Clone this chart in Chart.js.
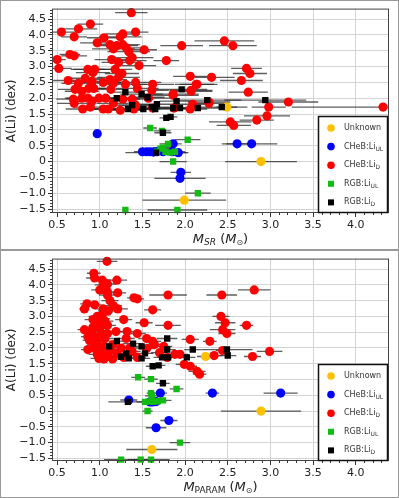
<!DOCTYPE html>
<html>
<head>
<meta charset="utf-8">
<script src="https://cdn.jsdelivr.net/npm/chart.js@4.4.1/dist/chart.umd.min.js"></script>
<style>
  body { margin: 0; background: #fff; }
  canvas { display: block; }
</style>
</head>
<body>
<canvas id="srChart" width="399" height="250"></canvas>
<canvas id="paramChart" width="399" height="248"></canvas>
<script>
// tick labels
const xTickValues = [0.5, 1.0, 1.5, 2.0, 2.5, 3.0, 3.5, 4.0];
const yTickValues = [-1.5, -1.0, -0.5, 0, 0.5, 1.0, 1.5, 2.0, 2.5, 3.0, 3.5, 4.0, 4.5];
const legendLabels = [['Unknown', ''], ['CHeB:Li', 'UL'], ['CHeB:Li', 'D'], ['RGB:Li', 'UL'], ['RGB:Li', 'D']];

// top panel: [mass, A(Li), mass error]
const srUnknown = [[2.49, 1.72, 0.12], [2.89, 0.0, 0.42], [1.99, -1.22, 0.49]];
const srChebUL = [
  [0.97, 0.88, 0.03], [1.50, 0.31, 0.1], [1.55, 0.31, 0.1], [1.59, 0.31, 0.12], [1.63, 0.30, 0.1],
  [1.67, 0.31, 0.1], [1.74, 0.31, 0.12], [1.85, 0.31, 0.1], [1.92, 0.28, 0.12], [1.86, 0.56, 0.1],
  [1.95, -0.34, 0.12], [1.94, -0.53, 0.3], [2.61, 0.56, 0.18], [2.78, 0.56, 0.3]
];
const srChebD = [
  [1.37, 4.70, 0.19], [0.55, 4.09, 0.2], [0.75, 4.19, 0.22], [0.70, 3.94, 0.15], [0.89, 4.34, 0.15],
  [1.05, 3.91, 0.2], [0.97, 3.75, 0.2], [1.24, 3.94, 0.25], [1.27, 4.03, 0.2], [1.42, 4.09, 0.15],
  [1.20, 3.66, 0.25], [1.27, 3.69, 0.2], [1.31, 3.59, 0.2], [1.34, 3.47, 0.25], [1.52, 3.53, 0.15],
  [1.12, 3.69, 0.2], [1.16, 3.56, 0.25], [0.65, 3.38, 0.12], [0.70, 3.34, 0.15], [0.50, 3.22, 0.1],
  [0.52, 2.94, 0.15], [1.14, 3.22, 0.2], [1.22, 3.13, 0.2], [1.38, 3.28, 0.25], [1.35, 3.19, 0.2],
  [1.46, 3.03, 0.2], [1.78, 3.19, 0.15], [1.96, 3.66, 0.25], [2.06, 2.69, 0.2], [2.13, 2.44, 0.25],
  [2.07, 2.25, 0.25], [0.63, 2.56, 0.3], [0.86, 2.91, 0.2], [0.94, 2.91, 0.25], [0.92, 2.81, 0.2],
  [1.18, 2.91, 0.2], [1.26, 2.78, 0.2], [1.22, 2.66, 0.25], [0.83, 2.63, 0.2], [0.91, 2.53, 0.25],
  [0.75, 2.47, 0.2], [0.71, 2.28, 0.2], [0.79, 2.22, 0.2], [0.87, 2.31, 0.2], [0.93, 2.31, 0.25],
  [1.04, 2.50, 0.3], [1.12, 2.59, 0.2], [1.16, 2.47, 0.2], [1.30, 2.44, 0.25], [1.42, 2.50, 0.3],
  [1.44, 2.31, 0.25], [1.62, 2.44, 0.25], [1.61, 2.25, 0.2], [1.86, 2.09, 0.3], [1.13, 2.28, 0.2],
  [0.69, 1.97, 0.2], [0.70, 1.84, 0.2], [0.79, 2.0, 0.2], [0.86, 2.0, 0.25], [0.91, 1.91, 0.2],
  [0.89, 1.72, 0.2], [0.80, 1.66, 0.2], [0.99, 2.0, 0.25], [1.07, 2.0, 0.2], [1.04, 1.66, 0.2],
  [1.10, 1.66, 0.2], [1.24, 1.62, 0.25], [1.16, 1.84, 0.2], [1.27, 1.97, 0.2], [1.38, 1.97, 0.25],
  [1.42, 1.78, 0.2], [1.40, 1.66, 0.2], [1.57, 2.0, 0.25], [1.62, 1.69, 0.2], [1.87, 1.69, 0.2],
  [2.06, 1.66, 0.2], [2.14, 2.44, 0.2], [2.07, 2.22, 0.25], [1.86, 2.13, 0.3], [2.46, 3.81, 0.35],
  [2.56, 3.66, 0.28], [2.72, 2.94, 0.18], [2.76, 2.78, 0.2], [2.31, 2.66, 0.27], [2.66, 2.56, 0.25],
  [2.74, 2.19, 0.23], [2.28, 1.88, 0.25], [3.21, 1.88, 0.35], [2.98, 1.72, 0.2], [4.32, 1.72, 1.07],
  [2.96, 1.44, 0.27], [2.84, 1.31, 0.2], [2.53, 1.25, 0.25], [2.57, 1.14, 0.2], [2.28, 1.84, 0.2],
  [2.09, 1.81, 0.2]
];
const srRgbUL = [
  [1.59, 1.06, 0.08], [1.73, 0.97, 0.1], [1.80, 0.56, 0.1], [1.74, 0.44, 0.12], [2.03, 0.69, 0.15],
  [1.71, 0.41, 0.1], [1.67, 0.31, 0.1], [1.77, 0.31, 0.12], [1.82, 0.28, 0.1], [1.88, 0.31, 0.12],
  [1.86, 0.0, 0.16], [2.15, -1.0, 0.15], [1.30, -1.53, 0.0], [1.91, -1.53, 0.35]
];
const srRgbD = [
  [1.20, 2.0, 0.2], [1.30, 2.19, 0.2], [1.33, 1.66, 0.2], [1.38, 1.78, 0.2], [1.49, 2.13, 0.25],
  [1.56, 2.03, 0.2], [1.51, 1.66, 0.2], [1.61, 1.72, 0.2], [1.65, 1.66, 0.2], [1.67, 1.81, 0.25],
  [1.78, 1.38, 0.08], [1.83, 1.41, 0.08], [1.90, 1.91, 0.2], [1.86, 1.69, 0.2], [1.96, 2.28, 0.3],
  [1.94, 1.69, 0.2], [2.15, 1.69, 0.25], [2.26, 1.94, 0.4], [2.43, 1.72, 0.3], [2.94, 1.94, 0.48],
  [1.74, 0.91, 0.1], [1.66, 0.28, 0.36]
];

// bottom panel
const parUnknown = [[2.24, 1.73, 0.1], [2.89, 0.0, 0.47], [1.61, -1.22, 0.3]];
const parChebUL = [
  [1.34, 0.35, 0.1], [1.71, 0.57, 0.08], [1.59, 0.29, 0.1], [1.62, 0.29, 0.08], [1.66, 0.30, 0.1],
  [1.81, -0.30, 0.1], [1.66, -0.53, 0.12], [2.32, 0.57, 0.08], [3.12, 0.57, 0.2]
];
const parChebD = [
  [1.085, 4.75, 0.12], [0.93, 4.37, 0.08], [0.94, 4.22, 0.1], [1.03, 4.15, 0.1], [1.20, 4.15, 0.12],
  [1.04, 4.0, 0.1], [1.09, 4.03, 0.1], [1.0, 3.84, 0.1], [1.09, 3.78, 0.1], [1.09, 3.68, 0.1],
  [1.21, 3.75, 0.1], [1.40, 3.59, 0.08], [1.44, 3.56, 0.08], [1.80, 3.68, 0.22], [0.85, 3.40, 0.08],
  [0.94, 3.37, 0.08], [0.82, 3.24, 0.06], [1.04, 3.24, 0.1], [1.16, 3.34, 0.1], [1.21, 3.24, 0.12],
  [1.10, 3.18, 0.12], [1.62, 3.21, 0.1], [1.28, 2.90, 0.1], [0.97, 3.0, 0.1], [1.0, 2.93, 0.12],
  [0.92, 2.90, 0.1], [1.52, 2.80, 0.1], [1.80, 2.72, 0.15], [1.09, 2.72, 0.1], [0.92, 2.66, 0.1],
  [0.82, 2.58, 0.08], [0.90, 2.52, 0.1], [1.0, 2.61, 0.1], [1.19, 2.52, 0.12], [1.32, 2.52, 0.1],
  [1.44, 2.46, 0.1], [0.86, 2.36, 0.08], [0.94, 2.36, 0.1], [1.09, 2.46, 0.12], [0.88, 2.24, 0.08],
  [0.97, 2.21, 0.1], [1.31, 2.30, 0.1], [1.62, 2.21, 0.1], [2.06, 2.27, 0.1], [0.86, 1.95, 0.08],
  [1.0, 1.98, 0.1], [0.97, 1.80, 0.1], [0.99, 1.67, 0.1], [1.10, 1.73, 0.1], [1.20, 1.83, 0.12],
  [1.94, 1.80, 0.1], [1.99, 1.48, 0.1], [2.06, 1.42, 0.08], [2.14, 1.26, 0.1], [2.17, 1.17, 0.08],
  [1.38, 1.89, 0.1], [1.55, 1.98, 0.1], [1.64, 2.11, 0.1], [1.44, 1.70, 0.1], [1.79, 1.70, 0.1],
  [1.88, 1.80, 0.1], [0.95, 2.10, 0.1], [1.05, 2.05, 0.1], [1.03, 1.90, 0.1], [0.93, 2.0, 0.1],
  [1.06, 2.30, 0.1], [1.12, 1.95, 0.1], [1.15, 2.10, 0.1], [1.02, 2.45, 0.1], [0.98, 2.70, 0.1],
  [1.06, 2.85, 0.1], [1.03, 3.05, 0.1], [1.12, 3.50, 0.1], [1.05, 3.85, 0.08], [1.15, 1.65, 0.1],
  [1.05, 1.65, 0.1], [1.25, 2.0, 0.1], [1.28, 1.70, 0.1], [1.35, 2.0, 0.1], [1.55, 2.30, 0.1],
  [1.70, 1.85, 0.1], [1.75, 2.05, 0.1],
  [2.81, 3.84, 0.19], [2.43, 3.68, 0.18], [2.42, 3.0, 0.1], [2.47, 2.80, 0.12], [2.72, 2.72, 0.08],
  [2.44, 2.58, 0.15], [2.49, 2.46, 0.1], [2.29, 2.21, 0.08], [2.99, 1.89, 0.15], [2.34, 1.76, 0.1],
  [2.79, 1.73, 0.1], [2.44, 1.92, 0.08]
];
const parRgbUL = [
  [1.45, 1.07, 0.08], [1.60, 1.01, 0.08], [1.90, 0.70, 0.08], [1.60, 0.57, 0.05], [1.61, 0.48, 0.08],
  [1.53, 0.29, 0.1], [1.57, 0.30, 0.08], [1.63, 0.29, 0.1], [1.68, 0.31, 0.1], [1.74, 0.34, 0.1],
  [1.56, 0.0, 0.06], [1.94, -1.0, 0.12], [1.25, -1.54, 0.2], [1.48, -1.54, 0.15], [1.60, -1.54, 0.22]
];
const parRgbD = [
  [1.74, 0.88, 0.08], [1.33, 0.29, 0.23], [1.11, 2.05, 0.1], [1.20, 2.22, 0.1], [1.31, 1.83, 0.1],
  [1.25, 1.72, 0.1], [1.34, 1.67, 0.1], [1.39, 2.14, 0.12], [1.49, 2.05, 0.12], [1.53, 1.83, 0.1],
  [1.49, 1.67, 0.1], [1.62, 1.42, 0.08], [1.69, 1.45, 0.08], [1.79, 2.30, 0.12], [1.79, 1.95, 0.1],
  [1.73, 1.70, 0.1], [1.80, 1.70, 0.1], [2.02, 1.70, 0.1], [2.09, 1.95, 0.1], [2.49, 1.95, 0.3],
  [2.50, 1.76, 0.1]
];

const colors = { unknown: '#ffc000', chebUL: '#0000ff', chebD: '#ff0000', rgbUL: '#11bb11', rgbD: '#000000' };
const legendColors = [colors.unknown, colors.chebUL, colors.chebD, colors.rgbUL, colors.rgbD];
const legendStyles = ['circle', 'circle', 'circle', 'rect', 'rect'];

const toPoints = arr => arr.map(([x, y, e]) => ({ x: x, y: y, xerr: e }));

function makeSet(data, color, style) {
  return {
    data: toPoints(data),
    backgroundColor: color,
    borderWidth: 0,
    clip: 6,
    pointStyle: style,
    pointRadius: style === 'rect' ? 4.5 : 4.6,
    pointHoverRadius: style === 'rect' ? 4.5 : 4.6
  };
}

// horizontal error bars behind the markers
const errorBars = {
  id: 'errorBars',
  beforeDatasetsDraw(chart) {
    const { ctx, chartArea, scales } = chart;
    ctx.save();
    ctx.beginPath();
    ctx.rect(chartArea.left, chartArea.top, chartArea.right - chartArea.left, chartArea.bottom - chartArea.top);
    ctx.clip();
    ctx.strokeStyle = 'rgba(40,40,40,0.75)';
    ctx.lineWidth = 1.3;
    chart.data.datasets.forEach(ds => {
      ds.data.forEach(p => {
        if (!p.xerr) return;
        const y = scales.y.getPixelForValue(p.y);
        ctx.beginPath();
        ctx.moveTo(scales.x.getPixelForValue(p.x - p.xerr), y);
        ctx.lineTo(scales.x.getPixelForValue(p.x + p.xerr), y);
        ctx.stroke();
      });
    });
    ctx.restore();
  }
};

function drawSubText(ctx, parts, x, y) {
  // parts: [text, font, dy]
  let total = 0;
  parts.forEach(p => { ctx.font = p[1]; total += ctx.measureText(p[0]).width; });
  let cx = x - total / 2;
  parts.forEach(p => {
    ctx.font = p[1];
    ctx.fillText(p[0], cx, y + p[2]);
    cx += ctx.measureText(p[0]).width;
  });
}

const decor = {
  id: 'decor',
  afterDraw(chart) {
    const { ctx, chartArea: a, scales } = chart;
    const W = chart.width, H = chart.height;
    ctx.save();
    // minor ticks
    ctx.strokeStyle = '#333';
    ctx.lineWidth = 1;
    const isMajor = v => Math.abs(v * 2 - Math.round(v * 2)) < 1e-6;
    for (let v = Math.ceil(scales.x.min * 10) / 10; v <= scales.x.max; v = Math.round((v + 0.1) * 10) / 10) {
      if (isMajor(v)) continue;
      const px = Math.round(scales.x.getPixelForValue(v)) + 0.5;
      ctx.beginPath(); ctx.moveTo(px, a.bottom); ctx.lineTo(px, a.bottom + 2); ctx.stroke();
    }
    for (let v = Math.ceil(scales.y.min * 10) / 10; v <= scales.y.max; v = Math.round((v + 0.1) * 10) / 10) {
      if (isMajor(v)) continue;
      const py = Math.round(scales.y.getPixelForValue(v)) + 0.5;
      ctx.beginPath(); ctx.moveTo(a.left - 2, py); ctx.lineTo(a.left, py); ctx.stroke();
    }
    // axes frame
    ctx.strokeStyle = '#444';
    ctx.strokeRect(a.left + 0.5, a.top + 0.5, a.right - a.left - 1, a.bottom - a.top - 1);

    // legend
    const lx = 318, ly = a.bottom - 97, lw = 70, lh = 97;
    ctx.fillStyle = '#fff';
    ctx.fillRect(lx, ly, lw, lh);
    ctx.strokeStyle = '#111';
    ctx.lineWidth = 1.5;
    ctx.strokeRect(lx + 0.5, ly + 0.5, lw - 1, lh - 1);
    legendLabels.forEach((lab, i) => {
      const cy = ly + 12 + i * 18.6;
      ctx.fillStyle = legendColors[i];
      if (legendStyles[i] === 'circle') {
        ctx.beginPath(); ctx.arc(331, cy, 3.8, 0, Math.PI * 2); ctx.fill();
      } else {
        ctx.fillRect(328, cy - 3, 6, 6);
      }
      ctx.fillStyle = '#333';
      ctx.textAlign = 'left';
      ctx.textBaseline = 'middle';
      ctx.font = '8px "DejaVu Sans"';
      ctx.fillText(lab[0], 344, cy);
      if (lab[1]) {
        const w = ctx.measureText(lab[0]).width;
        ctx.font = '6px "DejaVu Sans"';
        ctx.fillText(lab[1], 344 + w, cy + 2.5);
      }
    });

    // axis titles
    ctx.fillStyle = '#222';
    ctx.textAlign = 'left';
    ctx.textBaseline = 'middle';
    const sub = chart.options.plugins.decor.sub;
    drawSubText(ctx, [
      ['M', 'italic 13px "DejaVu Sans"', 0],
      [sub[0], sub[1], 3],
      [' (', '13px "DejaVu Sans"', 0],
      ['M', 'italic 13px "DejaVu Sans"', 0],
      ['\u2299', '8px "DejaVu Sans"', 3],
      [')', '13px "DejaVu Sans"', 0]
    ], (a.left + a.right) / 2, a.bottom + 27);

    ctx.save();
    ctx.translate(12, (a.top + a.bottom) / 2);
    ctx.rotate(-Math.PI / 2);
    ctx.textAlign = 'center';
    ctx.font = '12px "DejaVu Sans"';
    ctx.fillText('A(Li) (dex)', 0, 0);
    ctx.restore();

    // figure border
    ctx.strokeStyle = '#999';
    ctx.lineWidth = 1;
    ctx.strokeRect(0.5, 0.5, W - 1, H - 1);
    ctx.restore();
  }
};

function makeChart(id, groups, yMin, yMax, top, sub) {
  const canvas = document.getElementById(id);
  return new Chart(canvas.getContext('2d'), {
    type: 'scatter',
    data: {
      datasets: [
        makeSet(groups[4], colors.rgbD, 'rect'),
        makeSet(groups[3], colors.rgbUL, 'rect'),
        makeSet(groups[2], colors.chebD, 'circle'),
        makeSet(groups[1], colors.chebUL, 'circle'),
        makeSet(groups[0], colors.unknown, 'circle')
      ]
    },
    options: {
      responsive: false,
      animation: false,
      devicePixelRatio: 1,
      layout: { padding: { left: 0, right: 10, top: top, bottom: 0 } },
      plugins: {
        legend: { display: false },
        tooltip: { enabled: false },
        decor: { sub: sub }
      },
      scales: {
        x: {
          type: 'linear',
          min: 0.44,
          max: 4.39,
          afterBuildTicks: s => { s.ticks = xTickValues.map(v => ({ value: v })); },
          afterFit: s => { s.height = 37; },
          ticks: {
            color: '#222',
            font: { family: 'DejaVu Sans', size: 11 },
            padding: 2,
            maxRotation: 0,
            callback: v => v.toFixed(1)
          },
          grid: { color: '#d4d4d4', lineWidth: 1, tickLength: 4, tickColor: '#333' },
          border: { display: false }
        },
        y: {
          type: 'linear',
          min: yMin,
          max: yMax,
          afterBuildTicks: s => { s.ticks = yTickValues.map(v => ({ value: v })); },
          afterFit: s => { s.width = 52; },
          ticks: {
            color: '#222',
            font: { family: 'DejaVu Sans', size: 11 },
            padding: 2,
            callback: v => v === 0 ? '0' : v.toFixed(1).replace('-', '\u2212')
          },
          grid: { color: '#d4d4d4', lineWidth: 1, tickLength: 4, tickColor: '#333' },
          border: { display: false }
        }
      }
    },
    plugins: [errorBars, decor]
  });
}

makeChart('srChart', [srUnknown, srChebUL, srChebD, srRgbUL, srRgbD], -1.625, 4.83, 7,
  ['SR', 'italic 9px "DejaVu Sans"']);
makeChart('paramChart', [parUnknown, parChebUL, parChebD, parRgbUL, parRgbD], -1.585, 4.835, 6,
  ['PARAM', '9px "DejaVu Sans"']);
</script>
</body>
</html>
